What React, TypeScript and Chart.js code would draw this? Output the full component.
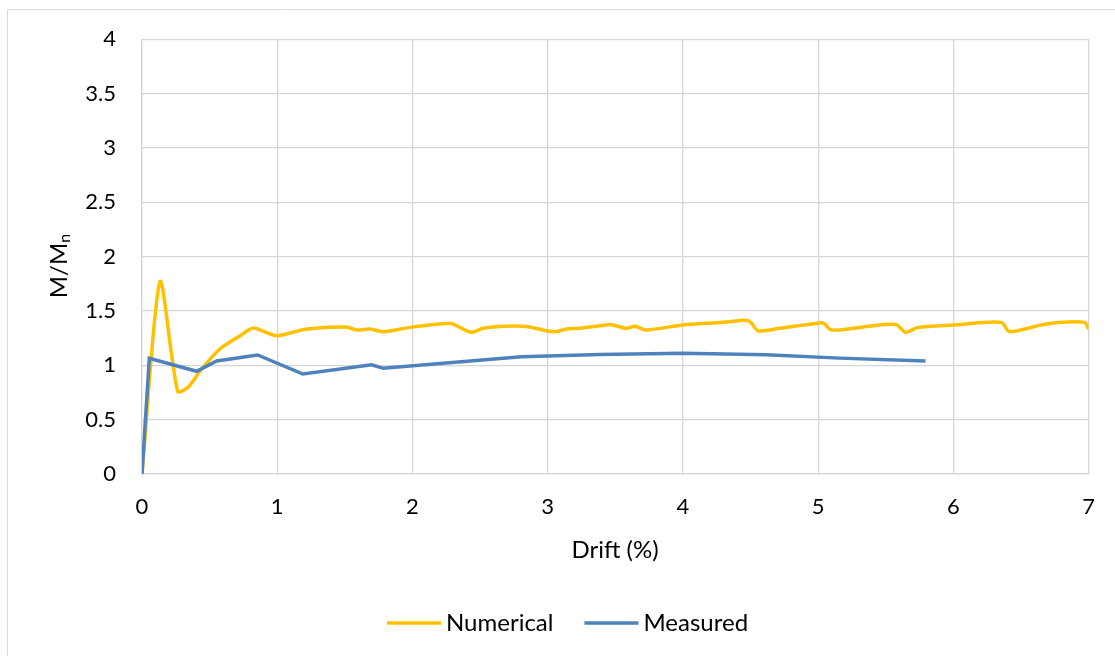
import React, { useEffect, useRef } from "react";
import { Chart, registerables } from "chart.js";

Chart.register(...registerables);

const numericalDrift = [
  0, 0.133, 0.264, 0.342, 0.441, 0.576, 0.724, 0.823, 0.995, 1.19, 1.39, 1.513, 1.587, 1.685,
  1.784, 1.981, 2.276, 2.326, 2.436, 2.523, 2.695, 2.855, 2.99, 3.064, 3.138, 3.237, 3.385,
  3.471, 3.582, 3.644, 3.73, 4.0, 4.296, 4.469, 4.506, 4.555, 4.715, 5.011, 5.048, 5.097,
  5.257, 5.405, 5.578, 5.647, 5.738, 5.997, 6.354, 6.415, 6.686, 6.97, 7.0,
];
const numericalMoment = [
  0, 1.77, 0.76, 0.8, 0.966, 1.15, 1.27, 1.343, 1.272, 1.328, 1.349, 1.352, 1.325, 1.334,
  1.309, 1.349, 1.386, 1.364, 1.303, 1.34, 1.359, 1.355, 1.318, 1.309, 1.334, 1.34, 1.364,
  1.374, 1.34, 1.359, 1.325, 1.371, 1.395, 1.415, 1.389, 1.318, 1.34, 1.39, 1.38, 1.325,
  1.34, 1.364, 1.374, 1.303, 1.349, 1.371, 1.395, 1.309, 1.38, 1.395, 1.334,
];
const measuredDrift = [
  0, 0.054, 0.404, 0.552, 0.855, 1.19, 1.698, 1.784, 2.806, 3.385, 4.0, 4.617, 5.159, 5.794,
];
const measuredMoment = [
  0, 1.065, 0.945, 1.04, 1.095, 0.92, 1.005, 0.972, 1.078, 1.1, 1.11, 1.097, 1.066, 1.04,
];
const seriesNames = ["Numerical", "Measured"];
const xTitle = "Drift (%)";
const yTitleMain = "M/M";
const yTitleSub = "n";

const FONT = "Lato, 'Open Sans', sans-serif";

export default function App() {
  const ref = useRef<HTMLCanvasElement>(null);

  useEffect(() => {
    const canvas = ref.current!;
    const overlay = {
      id: "overlay",
      afterDraw(chart: any) {
        const ctx = chart.ctx as CanvasRenderingContext2D;
        ctx.save();
        // outer frame
        ctx.strokeStyle = "#d9d9d9";
        ctx.lineWidth = 1;
        ctx.beginPath();
        ctx.moveTo(7.5, 656);
        ctx.lineTo(7.5, 9.5);
        ctx.lineTo(1115, 9.5);
        ctx.stroke();

        ctx.fillStyle = "#000";
        // x title
        ctx.font = `24px ${FONT}`;
        ctx.textAlign = "center";
        ctx.textBaseline = "middle";
        ctx.fillText(xTitle, 615, 550);

        // y title with subscript
        ctx.font = `24px ${FONT}`;
        const wMain = ctx.measureText(yTitleMain).width;
        ctx.font = `16px ${FONT}`;
        const wSub = ctx.measureText(yTitleSub).width;
        const total = wMain + wSub;
        ctx.translate(59, 266);
        ctx.rotate(-Math.PI / 2);
        ctx.textAlign = "left";
        ctx.textBaseline = "middle";
        ctx.font = `24px ${FONT}`;
        ctx.fillText(yTitleMain, -total / 2, 0);
        ctx.font = `16px ${FONT}`;
        ctx.fillText(yTitleSub, -total / 2 + wMain, 6);
        ctx.setTransform(1, 0, 0, 1, 0, 0);

        // legend
        ctx.font = `24px ${FONT}`;
        ctx.textAlign = "left";
        ctx.textBaseline = "middle";
        let x = 387;
        const y = 623;
        chart.data.datasets.forEach((ds: any) => {
          ctx.strokeStyle = ds.borderColor;
          ctx.lineWidth = 3.5;
          ctx.beginPath();
          ctx.moveTo(x, y);
          ctx.lineTo(x + 54, y);
          ctx.stroke();
          ctx.fillText(ds.label, x + 59, y);
          x += 59 + ctx.measureText(ds.label).width + 31;
        });
        ctx.restore();
      },
    };

    const chart = new Chart(canvas, {
      type: "line",
      data: {
        datasets: [
          {
            label: seriesNames[0],
            data: numericalDrift.map((d, i) => ({ x: d, y: numericalMoment[i] })),
            borderColor: "#FFC000",
            backgroundColor: "#FFC000",
            borderWidth: 3.5,
            pointRadius: 0,
            tension: 0.25,
            fill: false,
            order: 1,
          },
          {
            label: seriesNames[1],
            data: measuredDrift.map((d, i) => ({ x: d, y: measuredMoment[i] })),
            borderColor: "#4F81BD",
            backgroundColor: "#4F81BD",
            borderWidth: 3.5,
            pointRadius: 0,
            tension: 0,
            fill: false,
            order: 0,
          },
        ],
      },
      options: {
        responsive: false,
        animation: false,
        layout: { padding: { top: 39, right: 26, left: 0, bottom: 0 } },
        plugins: { legend: { display: false }, tooltip: { enabled: false } },
        scales: {
          x: {
            type: "linear",
            min: 0,
            max: 7,
            afterFit: (s: any) => {
              s.height = 182;
            },
            ticks: {
              stepSize: 1,
              padding: 20,
              color: "#000",
              maxRotation: 0,
              font: { family: FONT, size: 22 },
              callback: (v: any) => `${v}`,
            },
            grid: { color: "#d6d6d6", lineWidth: 1.3, drawTicks: false },
            border: { color: "#d6d6d6", width: 1.3 },
          },
          y: {
            type: "linear",
            min: 0,
            max: 4,
            afterFit: (s: any) => {
              s.width = 142;
            },
            ticks: {
              stepSize: 0.5,
              padding: 26,
              color: "#000",
              font: { family: FONT, size: 22 },
              callback: (v: any) => `${v}`,
            },
            grid: { color: "#d6d6d6", lineWidth: 1.3, drawTicks: false },
            border: { color: "#d6d6d6", width: 1.3 },
          },
        },
      },
      plugins: [overlay],
    } as any);
    return () => chart.destroy();
  }, []);

  return (
    <div style={{ position: "absolute", left: 0, top: 0, width: 1115, height: 656, background: "#fff" }}>
      <canvas ref={ref} width={1115} height={656} style={{ display: "block" }} />
    </div>
  );
}
